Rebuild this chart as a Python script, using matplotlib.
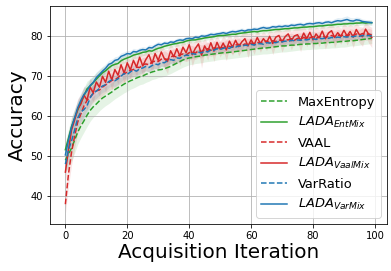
import numpy as np
import matplotlib
matplotlib.use("Agg")
import matplotlib.pyplot as plt

iterations = list(range(100))

# mean accuracy per acquisition iteration
max_entropy = [
    49.0, 50.5, 52.0, 54.0, 56.0, 57.5, 58.8, 60.2, 61.4, 62.3,
    63.0, 63.8, 64.5, 65.0, 65.5, 66.0, 66.6, 67.1, 67.5, 68.0,
    68.4, 68.8, 69.1, 69.5, 69.8, 70.0, 70.4, 70.7, 71.0, 71.2,
    71.5, 71.6, 71.8, 72.1, 72.4, 72.8, 73.2, 73.6, 74.0, 74.3,
    74.5, 74.6, 74.8, 74.9, 75.0, 75.2, 75.3, 75.4, 75.5, 75.6,
    75.7, 75.8, 75.8, 75.9, 76.0, 76.1, 76.2, 76.3, 76.4, 76.5,
    76.6, 76.7, 76.8, 76.9, 77.0, 77.0, 77.1, 77.2, 77.3, 77.4,
    77.5, 77.5, 77.6, 77.7, 77.7, 77.8, 77.9, 77.9, 78.0, 78.0,
    78.1, 78.1, 78.2, 78.2, 78.3, 78.3, 78.4, 78.4, 78.5, 78.6,
    78.6, 78.7, 78.8, 78.8, 78.9, 79.0, 79.1, 79.2, 79.3, 79.4]
lada_entmix = [
    51.6, 54.5, 57.4, 59.5, 61.5, 63.3, 65.0, 66.8, 67.5, 68.3,
    69.2, 70.0, 70.8, 71.3, 72.0, 72.6, 72.9, 73.1, 73.8, 74.2,
    74.5, 74.8, 75.2, 75.4, 75.6, 75.9, 76.0, 76.3, 76.2, 76.6,
    76.9, 77.1, 77.4, 77.6, 77.8, 78.0, 78.1, 78.3, 78.4, 78.7,
    78.9, 79.0, 79.0, 79.2, 79.3, 79.5, 79.6, 79.7, 79.8, 80.0,
    80.1, 80.1, 80.2, 80.3, 80.4, 80.4, 80.6, 80.7, 80.8, 80.9,
    81.0, 81.1, 81.0, 81.2, 81.3, 81.3, 81.4, 81.5, 81.6, 81.6,
    81.7, 81.8, 81.8, 81.9, 82.0, 82.0, 82.1, 82.2, 82.2, 82.3,
    82.3, 82.4, 82.5, 82.5, 82.6, 82.7, 82.7, 82.8, 82.9, 82.9,
    83.0, 83.0, 83.1, 83.1, 83.2, 83.2, 83.3, 83.2, 83.3, 83.3]
vaal = [
    38.0, 45.5, 51.0, 55.0, 58.5, 60.5, 62.5, 63.9, 64.8, 65.6,
    66.3, 66.5, 67.2, 67.8, 68.3, 68.9, 69.1, 69.6, 70.3, 70.5,
    71.0, 71.4, 71.6, 72.2, 72.1, 72.8, 73.0, 72.8, 73.5, 73.7,
    73.6, 74.2, 74.3, 74.1, 74.8, 75.0, 74.7, 75.3, 75.5, 75.2,
    75.8, 76.0, 75.7, 76.3, 76.1, 76.6, 76.8, 76.4, 77.0, 76.9,
    77.2, 77.0, 77.5, 77.4, 77.2, 77.7, 77.9, 77.5, 78.0, 77.8,
    78.2, 78.0, 78.4, 78.1, 78.5, 78.7, 78.3, 78.8, 78.6, 79.0,
    78.8, 79.1, 79.0, 79.3, 78.9, 79.4, 79.2, 79.6, 79.3, 79.5,
    79.8, 79.4, 79.7, 80.0, 79.6, 79.9, 80.1, 79.8, 80.2, 80.0,
    80.3, 79.9, 80.4, 80.1, 80.5, 80.2, 80.6, 80.3, 80.5, 80.2]
lada_vaalmix = [
    46.0, 51.5, 56.5, 59.0, 61.8, 63.0, 65.2, 64.0, 67.2, 65.8,
    68.5, 67.2, 69.9, 68.4, 71.2, 69.0, 71.6, 70.2, 72.8, 70.7,
    73.3, 71.5, 73.9, 72.2, 74.7, 72.5, 74.1, 75.3, 73.1, 75.6,
    73.9, 76.0, 74.3, 73.6, 76.3, 74.8, 76.8, 75.0, 77.2, 75.8,
    77.8, 75.3, 76.9, 78.0, 75.2, 77.5, 76.1, 78.3, 76.2, 78.4,
    76.7, 78.2, 76.5, 78.7, 77.2, 78.9, 77.3, 78.5, 79.3, 77.5,
    79.0, 77.8, 79.6, 78.1, 79.3, 78.3, 79.9, 78.1, 79.7, 80.1,
    78.5, 79.8, 80.5, 78.8, 80.0, 80.3, 78.9, 80.7, 79.3, 80.9,
    79.0, 80.5, 79.5, 81.2, 79.3, 80.7, 81.3, 79.6, 80.8, 79.9,
    81.4, 80.0, 81.1, 79.7, 81.6, 80.3, 79.8, 81.7, 80.4, 79.6]
var_ratio = [
    48.0, 51.5, 53.8, 56.5, 59.5, 61.0, 61.6, 62.6, 64.5, 65.8,
    66.2, 66.9, 67.5, 67.8, 68.6, 69.0, 68.8, 69.3, 70.0, 70.6,
    70.4, 71.0, 71.5, 71.2, 71.8, 72.0, 72.4, 72.1, 72.6, 73.0,
    72.8, 73.4, 73.3, 73.8, 74.1, 73.9, 74.5, 74.4, 74.9, 75.2,
    75.1, 75.6, 75.4, 75.9, 75.8, 76.2, 76.0, 76.5, 76.4, 76.8,
    76.6, 76.9, 77.1, 76.9, 77.3, 77.2, 77.5, 77.4, 77.7, 77.6,
    77.9, 77.7, 78.0, 78.1, 77.9, 78.3, 78.2, 78.4, 78.3, 78.6,
    78.5, 78.7, 78.6, 78.9, 78.8, 79.0, 78.9, 79.1, 79.0, 79.2,
    79.3, 79.1, 79.4, 79.3, 79.5, 79.4, 79.6, 79.5, 79.7, 79.6,
    79.8, 79.7, 79.9, 79.8, 80.0, 79.9, 80.1, 80.0, 80.1, 80.0]
lada_varmix = [
    50.3, 54.0, 57.2, 59.6, 62.1, 63.9, 65.4, 66.3, 67.6, 68.4,
    69.6, 70.4, 71.2, 71.9, 72.9, 73.2, 73.9, 74.1, 74.9, 75.2,
    75.6, 75.5, 76.1, 76.0, 76.4, 76.6, 76.5, 77.1, 77.0, 77.5,
    77.9, 77.8, 78.2, 78.1, 78.5, 78.4, 78.8, 79.0, 78.9, 79.3,
    79.4, 79.3, 79.7, 79.6, 80.0, 79.9, 80.1, 80.4, 80.3, 80.5,
    80.6, 80.8, 80.6, 80.9, 81.1, 81.0, 81.2, 81.4, 81.2, 81.5,
    81.5, 81.7, 81.6, 81.9, 82.1, 81.9, 82.0, 82.3, 82.2, 82.4,
    82.3, 82.5, 82.4, 82.7, 82.6, 82.8, 82.9, 82.7, 83.0, 83.1,
    83.0, 83.2, 83.3, 83.1, 83.4, 83.5, 83.3, 83.6, 83.8, 83.7,
    83.9, 84.1, 83.8, 83.7, 84.0, 83.9, 83.6, 83.5, 83.4, 83.3]

# standard deviation over runs (shaded band)
max_entropy_std = [
    3.0, 3.2, 3.3, 3.2, 3.0, 2.9, 2.8, 2.8, 2.7, 2.6,
    2.6, 2.5, 2.5, 2.4, 2.4, 2.3, 2.3, 2.3, 2.2, 2.2,
    2.2, 2.1, 2.1, 2.1, 2.0, 2.0, 2.0, 2.0, 1.9, 1.9,
    1.9, 1.9, 1.9, 1.8, 1.8, 1.8, 1.8, 1.8, 1.8, 1.8,
    1.7, 1.7, 1.7, 1.7, 1.7, 1.7, 1.7, 1.7, 1.7, 1.6,
    1.6, 1.6, 1.6, 1.6, 1.6, 1.6, 1.6, 1.6, 1.6, 1.6,
    1.5, 1.5, 1.5, 1.5, 1.5, 1.5, 1.5, 1.5, 1.5, 1.5,
    1.5, 1.5, 1.5, 1.5, 1.4, 1.4, 1.4, 1.4, 1.4, 1.4,
    1.4, 1.4, 1.4, 1.4, 1.4, 1.4, 1.4, 1.4, 1.4, 1.4,
    1.4, 1.4, 1.3, 1.3, 1.3, 1.3, 1.3, 1.3, 1.3, 1.3]
lada_entmix_std = [
    2.0, 2.2, 2.4, 2.3, 2.2, 2.1, 2.0, 1.9, 1.8, 1.7,
    1.6, 1.5, 1.4, 1.3, 1.2, 1.2, 1.1, 1.1, 1.0, 1.0,
    1.0, 0.9, 0.9, 0.9, 0.9, 0.8, 0.8, 0.8, 0.8, 0.8,
    0.8, 0.8, 0.7, 0.7, 0.7, 0.7, 0.7, 0.7, 0.7, 0.7,
    0.7, 0.7, 0.7, 0.7, 0.7, 0.7, 0.6, 0.6, 0.6, 0.6,
    0.6, 0.6, 0.6, 0.6, 0.6, 0.6, 0.6, 0.6, 0.6, 0.6,
    0.6, 0.6, 0.6, 0.6, 0.6, 0.6, 0.6, 0.6, 0.6, 0.6,
    0.6, 0.6, 0.6, 0.6, 0.6, 0.6, 0.6, 0.6, 0.6, 0.6,
    0.6, 0.6, 0.6, 0.6, 0.6, 0.6, 0.6, 0.6, 0.6, 0.6,
    0.6, 0.6, 0.6, 0.6, 0.6, 0.6, 0.6, 0.6, 0.6, 0.6]
vaal_std = [
    2.5, 3.0, 3.2, 3.0, 2.8, 2.6, 2.5, 2.4, 2.3, 2.2,
    2.2, 2.1, 2.1, 2.0, 2.0, 2.1, 2.0, 1.9, 2.2, 1.9,
    1.8, 2.0, 1.8, 1.8, 2.1, 1.8, 1.7, 1.8, 1.7, 1.9,
    1.7, 1.7, 2.0, 1.7, 1.6, 1.8, 1.6, 1.7, 1.6, 1.6,
    1.9, 1.6, 1.6, 1.7, 1.6, 1.5, 1.6, 1.5, 1.8, 1.5,
    1.5, 1.6, 1.5, 1.5, 1.7, 1.5, 1.5, 1.5, 1.6, 1.5,
    1.4, 1.5, 1.4, 1.6, 1.4, 1.4, 1.5, 1.4, 1.4, 1.5,
    1.4, 1.4, 1.5, 1.4, 1.4, 1.4, 1.5, 1.4, 1.4, 1.4,
    1.4, 1.5, 1.4, 1.4, 1.4, 1.4, 1.5, 1.4, 1.4, 1.4,
    1.4, 1.4, 1.4, 1.5, 1.4, 1.4, 1.4, 1.4, 1.4, 1.4]
lada_vaalmix_std = [
    3.0, 3.0, 2.8, 2.6, 2.5, 2.4, 2.3, 2.4, 2.2, 2.3,
    2.1, 2.2, 2.0, 2.3, 1.9, 2.6, 2.0, 2.2, 1.9, 2.8,
    1.8, 2.3, 1.9, 2.4, 1.8, 2.9, 2.0, 1.8, 2.5, 1.8,
    2.2, 1.8, 2.3, 3.0, 1.8, 2.1, 1.7, 2.4, 1.8, 2.0,
    1.7, 2.9, 1.9, 1.7, 3.2, 1.8, 2.2, 1.7, 2.6, 1.7,
    2.0, 1.8, 2.7, 1.7, 2.1, 1.8, 2.3, 2.0, 1.7, 3.0,
    1.8, 2.4, 1.7, 2.2, 1.8, 2.0, 1.7, 2.8, 1.8, 1.7,
    2.6, 1.8, 1.7, 2.3, 1.8, 1.7, 2.9, 1.7, 2.0, 1.7,
    2.4, 1.8, 2.2, 1.7, 2.6, 1.8, 1.7, 2.5, 1.8, 2.0,
    1.7, 2.3, 1.8, 2.7, 1.7, 2.0, 2.4, 1.7, 2.2, 2.5]
var_ratio_std = [
    2.5, 2.6, 2.6, 2.5, 2.4, 2.3, 2.2, 2.1, 2.0, 1.9,
    1.8, 1.7, 1.6, 1.6, 1.5, 1.5, 1.4, 1.4, 1.4, 1.3,
    1.3, 1.3, 1.2, 1.2, 1.2, 1.2, 1.1, 1.1, 1.1, 1.1,
    1.1, 1.0, 1.0, 1.0, 1.0, 1.0, 1.0, 1.0, 0.9, 0.9,
    0.9, 0.9, 0.9, 0.9, 0.9, 0.9, 0.9, 0.9, 0.9, 0.9,
    0.8, 0.8, 0.8, 0.8, 0.8, 0.8, 0.8, 0.8, 0.8, 0.8,
    0.8, 0.8, 0.8, 0.8, 0.8, 0.8, 0.8, 0.8, 0.8, 0.8,
    0.8, 0.8, 0.8, 0.8, 0.8, 0.8, 0.8, 0.8, 0.8, 0.8,
    0.8, 0.8, 0.8, 0.8, 0.8, 0.8, 0.8, 0.8, 0.8, 0.8,
    0.8, 0.8, 0.8, 0.8, 0.8, 0.8, 0.8, 0.8, 0.8, 0.8]
lada_varmix_std = [
    2.0, 2.2, 2.2, 2.1, 2.0, 1.9, 1.8, 1.7, 1.6, 1.5,
    1.4, 1.3, 1.2, 1.1, 1.0, 1.0, 0.9, 0.9, 0.9, 0.8,
    0.8, 0.8, 0.8, 0.7, 0.7, 0.7, 0.7, 0.7, 0.7, 0.7,
    0.7, 0.6, 0.6, 0.6, 0.6, 0.6, 0.6, 0.6, 0.6, 0.6,
    0.6, 0.6, 0.6, 0.6, 0.6, 0.6, 0.6, 0.6, 0.6, 0.6,
    0.6, 0.6, 0.6, 0.6, 0.6, 0.6, 0.6, 0.6, 0.6, 0.6,
    0.6, 0.6, 0.6, 0.6, 0.6, 0.6, 0.6, 0.6, 0.6, 0.6,
    0.6, 0.6, 0.6, 0.6, 0.6, 0.6, 0.6, 0.6, 0.6, 0.6,
    0.6, 0.6, 0.6, 0.6, 0.6, 0.6, 0.6, 0.7, 0.8, 0.8,
    0.9, 0.9, 0.8, 0.8, 0.7, 0.7, 0.6, 0.6, 0.6, 0.6]

series = [
    ("MaxEntropy", max_entropy, max_entropy_std, "tab:green", "--"),
    (r"$LADA_{EntMix}$", lada_entmix, lada_entmix_std, "tab:green", "-"),
    ("VAAL", vaal, vaal_std, "tab:red", "--"),
    (r"$LADA_{VaalMix}$", lada_vaalmix, lada_vaalmix_std, "tab:red", "-"),
    ("VarRatio", var_ratio, var_ratio_std, "tab:blue", "--"),
    (r"$LADA_{VarMix}$", lada_varmix, lada_varmix_std, "tab:blue", "-"),
]

fig = plt.figure(figsize=(391 / 72, 271 / 72), dpi=72)
ax = fig.add_axes([0.128, 0.173, 0.862, 0.805])

x = np.array(iterations)
for label, mean, std, color, ls in series:
    mean = np.array(mean)
    std = np.array(std)
    ax.plot(x, mean, ls, color=color, label=label, linewidth=1.5)
    ax.fill_between(x, mean - std, mean + std, color=color, alpha=0.12, linewidth=0)

ax.set_xlabel("Acquisition Iteration", fontsize=20, labelpad=2)
ax.set_ylabel("Accuracy", fontsize=20, labelpad=4)
ax.set_yticks([40, 50, 60, 70, 80])
ax.set_xticks([0, 20, 40, 60, 80, 100])
ax.tick_params(labelsize=10)
ax.grid(True)
ax.legend(loc="lower right", fontsize=13)

fig.savefig("out.png", dpi=72)
